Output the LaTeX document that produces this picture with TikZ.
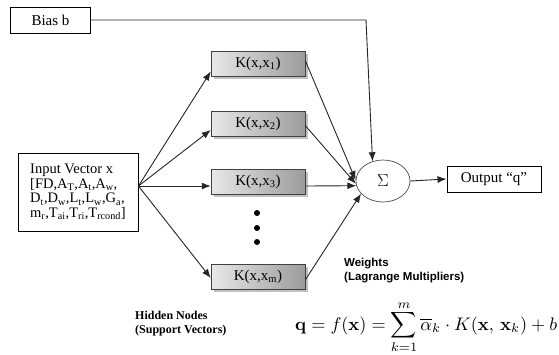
\documentclass[tikz,border=0pt]{standalone}
\usepackage[no-math]{fontspec}
\setmainfont{Liberation Serif}
\newfontfamily\arialfont{Liberation Sans}
\usetikzlibrary{arrows.meta,shadows,shapes.geometric}
\begin{document}
\begin{tikzpicture}[x=1pt,y=-1pt,
  plainbox/.style={draw=black, line width=0.9pt, fill=white, inner sep=0pt,
    font=\fontsize{14.5}{14.5}\selectfont},
  kbox/.style={draw=gray!50!black, line width=0.5pt, left color=gray!18, right color=gray!78,
    minimum width=94pt, minimum height=25pt, inner sep=0pt,
    font=\fontsize{15}{15}\selectfont,
    drop shadow={shadow xshift=2.5pt, shadow yshift=-2.5pt, fill=gray!80, opacity=0.6}},
  sumnode/.style={ellipse, draw=gray!60!black, line width=0.7pt, fill=white,
    minimum width=54pt, minimum height=42pt, inner sep=0pt, font=\fontsize{16}{16}\selectfont},
  conn/.style={draw=black!85, line width=0.9pt},
  arr/.style={conn, -{Latex[length=9pt,width=7pt]}},
  lbl/.style={inner sep=0pt, align=left}]
\useasboundingbox (0,0) rectangle (559,354);
\fill[white] (0,0) rectangle (559,354);
% nodes
\node[plainbox, minimum width=80pt, minimum height=26pt, font=\fontsize{15}{15}\selectfont] (bias) at (50.5,20) {Bias b};
\node[plainbox, minimum width=120pt, minimum height=78pt, align=left] (input) at (78,192)
  {Input Vector x\\
   {[}FD,A\textsubscript{T},A\textsubscript{t},A\textsubscript{w},\\
   D\textsubscript{t},D\textsubscript{w},L\textsubscript{t},L\textsubscript{w},G\textsubscript{a},\\
   m\textsubscript{r},T\textsubscript{ai},T\textsubscript{ri},T\textsubscript{rcond}{]}};
\node[kbox] (k1) at (258,63.5) {K(x,x\textsubscript{1})};
\node[kbox] (k2) at (258,123.5) {K(x,x\textsubscript{2})};
\node[kbox] (k3) at (258,181.5) {K(x,x\textsubscript{3})};
\node[kbox] (km) at (258,277) {K(x,x\textsubscript{m})};
\node[sumnode] (sum) at (383,181) {$\Sigma$};
\node[plainbox, minimum width=94pt, minimum height=26pt, font=\fontsize{15}{15}\selectfont] (out) at (494,179) {Output “q”};
% dots
\fill[black] (257,213) circle (3pt) (257,228) circle (3pt) (257,242) circle (3pt);
% connectors
\coordinate (fan) at ([yshift=6pt]input.east);
\draw[arr] (fan) -- ([yshift=-8pt]k1.west);
\draw[arr] (fan) -- ([yshift=-6.5pt]k2.west);
\draw[arr] (fan) -- ([yshift=-4.5pt]k3.west);
\draw[arr] (fan) -- ([yshift=-1pt]km.west);
\draw[arr] ([yshift=3pt]k1.east) -- (sum.178);
\draw[arr] ([yshift=-2pt]k2.east) -- (sum.186);
\draw[arr] ([yshift=-4.5pt]k3.east) -- (sum.190);
\draw[arr] ([yshift=-3pt]km.east) -- (sum.210);
\coordinate (bc) at (366,20);
\draw[arr] (bias.east) -- (bc) -- (sum.118);
\draw[arr] (sum.east) -- (out.west);
% labels
\node[lbl, anchor=north west, font=\arialfont\bfseries\fontsize{11.5}{13.5}\selectfont] (wlab) at (344,258)
  {Weights\\(Lagrange Multipliers)};
\node[lbl, anchor=north west, font=\bfseries\fontsize{12}{14}\selectfont] (hlab) at (135,311)
  {Hidden Nodes\\(Support Vectors)};
\node[inner sep=0pt, anchor=base west] (formula) at (295,330)
  {\resizebox{262pt}{!}{$\displaystyle \mathbf{q}=f(\mathbf{x})=\sum\limits^{\raisebox{-2pt}{$\scriptstyle m$}}_{\raisebox{2pt}{$\scriptstyle k=1$}}\overline{\alpha}_k\cdot K(\mathbf{x},\,\mathbf{x}_k)+b$}};
\end{tikzpicture}
\end{document}
